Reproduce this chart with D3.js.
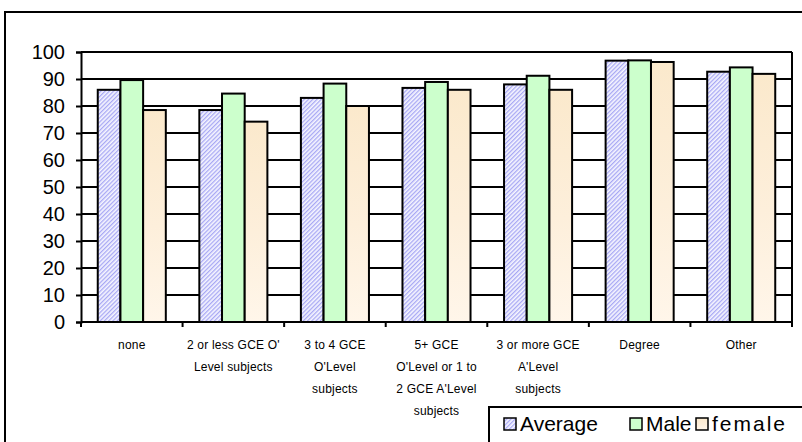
<!DOCTYPE html>
<html>
<head>
<meta charset="utf-8">
<script src="https://cdn.jsdelivr.net/npm/d3@7"></script>
<style>
  html, body { margin: 0; padding: 0; background: #fff; }
  svg { display: block; font-family: Arial, "Liberation Sans", sans-serif; }
</style>
</head>
<body>
<svg id="chart" width="802" height="442"></svg>
<script>
// Qualification groups (x-axis labels, wrapped into lines)
const categories = [
  ["none"],
  ["2 or less GCE O'", "Level subjects"],
  ["3 to 4 GCE", "O'Level", "subjects"],
  ["5+ GCE", "O'Level or 1 to", "2 GCE A'Level", "subjects"],
  ["3 or more GCE", "A'Level", "subjects"],
  ["Degree"],
  ["Other"]
];
const seriesNames = ["Average", "Male", "female"];
const averageValues = [86, 78.5, 83, 86.7, 88, 96.8, 92.7];
const maleValues    = [89.6, 84.6, 88.3, 88.9, 91.2, 96.9, 94.3];
const femaleValues  = [78.5, 74.2, 80, 86, 86, 96.3, 91.9];
const yTicks = [0, 10, 20, 30, 40, 50, 60, 70, 80, 90, 100];

const series = [averageValues, maleValues, femaleValues];
const fills = ["url(#hatchAvg)", "#ccffcc", "url(#gradFemale)"];

const svg = d3.select("#chart");
const defs = svg.append("defs");

// diagonal blue hatch for Average
const pat = defs.append("pattern")
  .attr("id", "hatchAvg").attr("patternUnits", "userSpaceOnUse")
  .attr("width", 3).attr("height", 3)
  .attr("patternTransform", "rotate(45)");
pat.append("rect").attr("width", 3).attr("height", 3).attr("fill", "#f6f6ff");
pat.append("rect").attr("width", 1.3).attr("height", 3).attr("fill", "#a8a8f4");

// cream gradient for female
const grad = defs.append("linearGradient")
  .attr("id", "gradFemale").attr("x1", 0).attr("y1", 0).attr("x2", 0).attr("y2", 1);
grad.append("stop").attr("offset", "0%").attr("stop-color", "#fbe9cc");
grad.append("stop").attr("offset", "55%").attr("stop-color", "#fdefdb");
grad.append("stop").attr("offset", "100%").attr("stop-color", "#fff6ea");

// outer frame
svg.append("rect")
  .attr("x", 5).attr("y", 12).attr("width", 830).attr("height", 460)
  .attr("fill", "none").attr("stroke", "#000").attr("stroke-width", 2);

const plotLeft = 81, plotRight = 792, plotTop = 52, plotBottom = 322;

const x = d3.scaleBand()
  .domain(d3.range(categories.length))
  .range([plotLeft, plotRight])
  .paddingInner(0.33).paddingOuter(0.165);
const xs = d3.scaleBand()
  .domain(d3.range(series.length))
  .range([0, x.bandwidth()]);
const y = d3.scaleLinear().domain([0, 100]).range([plotBottom, plotTop]);

// gridlines
svg.append("g").selectAll("line")
  .data(yTicks.filter(t => t > 0))
  .join("line")
  .attr("x1", plotLeft).attr("x2", plotRight)
  .attr("y1", d => y(d)).attr("y2", d => y(d))
  .attr("stroke", "#000").attr("stroke-width", 2);

// right border of plot area
svg.append("line")
  .attr("x1", plotRight).attr("x2", plotRight).attr("y1", plotTop).attr("y2", plotBottom)
  .attr("stroke", "#000").attr("stroke-width", 2);

// bars
const groups = svg.append("g").selectAll("g")
  .data(categories.map((c, i) => i))
  .join("g")
  .attr("transform", i => `translate(${x(i)},0)`);
groups.selectAll("rect")
  .data(i => series.map((s, k) => ({ k, v: s[i] })))
  .join("rect")
  .attr("x", d => xs(d.k))
  .attr("width", xs.bandwidth())
  .attr("y", d => y(d.v))
  .attr("height", d => y(0) - y(d.v))
  .attr("fill", d => fills[d.k])
  .attr("stroke", "#000").attr("stroke-width", 2);

// y axis
const yAxis = svg.append("g")
  .attr("transform", `translate(${plotLeft},0)`)
  .call(d3.axisLeft(y).tickValues(yTicks).tickSize(5).tickPadding(11));
yAxis.select(".domain").attr("stroke-width", 2);
yAxis.selectAll(".tick line").attr("stroke-width", 2);
yAxis.selectAll(".tick text")
  .attr("font-size", 20).attr("fill", "#000")
  .attr("font-family", "Arial, 'Liberation Sans', sans-serif");

// x axis with category boundary ticks
const xAxisG = svg.append("g");
xAxisG.append("line")
  .attr("x1", plotLeft).attr("x2", plotRight).attr("y1", plotBottom).attr("y2", plotBottom)
  .attr("stroke", "#000").attr("stroke-width", 2);
const step = x.step();
xAxisG.selectAll("line.tick")
  .data(d3.range(categories.length + 1))
  .join("line").attr("class", "tick")
  .attr("x1", i => plotLeft + i * step).attr("x2", i => plotLeft + i * step)
  .attr("y1", plotBottom).attr("y2", plotBottom + 5)
  .attr("stroke", "#000").attr("stroke-width", 2);

// category labels
svg.append("g").selectAll("text")
  .data(categories.map((lines, i) => ({ lines, i })))
  .join("text")
  .attr("text-anchor", "middle")
  .attr("font-size", 12)
  .attr("letter-spacing", 0.2)
  .attr("fill", "#000")
  .each(function(d) {
    const cx = x(d.i) + x.bandwidth() / 2;
    d3.select(this).selectAll("tspan")
      .data(d.lines)
      .join("tspan")
      .attr("x", cx)
      .attr("y", (l, j) => 349 + j * 22)
      .text(l => l);
  });

// legend
const legend = svg.append("g");
legend.append("rect")
  .attr("x", 489).attr("y", 407).attr("width", 340).attr("height", 40)
  .attr("fill", "#fff").attr("stroke", "#000").attr("stroke-width", 2);
const legendX = [504, 630, 696];
seriesNames.forEach((name, k) => {
  legend.append("rect")
    .attr("x", legendX[k]).attr("y", 418).attr("width", 12).attr("height", 12)
    .attr("fill", fills[k]).attr("stroke", "#000").attr("stroke-width", 1.5);
  legend.append("text")
    .attr("x", legendX[k] + 16).attr("y", 431)
    .attr("font-size", 21).attr("fill", "#000")
    .attr("letter-spacing", k === 2 ? 2 : 0)
    .text(name);
});
</script>
</body>
</html>
